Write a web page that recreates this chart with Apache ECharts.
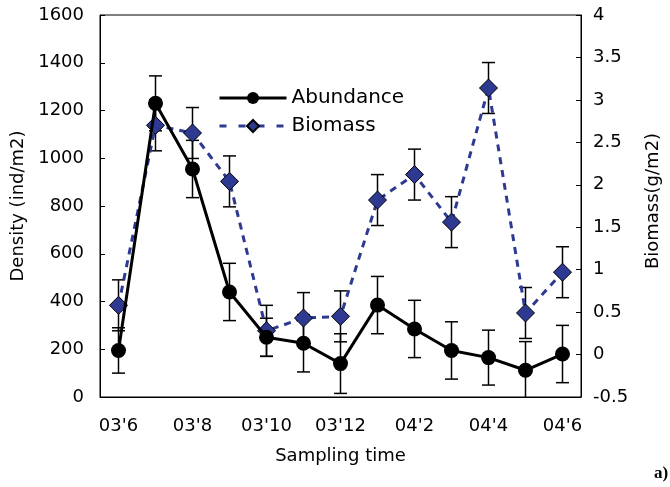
<!DOCTYPE html>
<html><head><meta charset="utf-8">
<script src="https://cdn.jsdelivr.net/npm/echarts@6/dist/echarts.min.js"></script>
<style>html,body{margin:0;padding:0;background:#fff}#c{width:670px;height:487px}</style>
</head><body><div id="c"></div>
<script>
const categories = ["03'6","03'7","03'8","03'9","03'10","03'11","03'12","04'1","04'2","04'3","04'4","04'5","04'6"];
const abundance = [195, 1230, 955, 440, 250, 225, 140, 385, 285, 195, 165, 112, 180];
const abundanceErr = [95, 115, 120, 120, 80, 120, 125, 120, 120, 120, 115, 120, 120];
const biomass = [0.58, 2.70, 2.61, 2.04, 0.28, 0.43, 0.45, 1.82, 2.12, 1.56, 3.14, 0.49, 0.97];
const biomassErr = [0.3, 0.3, 0.3, 0.3, 0.3, 0.3, 0.3, 0.3, 0.3, 0.3, 0.3, 0.3, 0.3];
const leftTicks = {min: 0, max: 1600, interval: 200};
const rightTicks = {min: -0.5, max: 4, interval: 0.5};

const FONT = 'DejaVu Sans';
const BLUE = '#2e3a91';

function errData(vals, errs){ return vals.map((v,i)=>[i, v-errs[i], v+errs[i]]); }
function errRender(params, api){
  const x = api.value(0);
  const p1 = api.coord([x, api.value(1)]);
  const p2 = api.coord([x, api.value(2)]);
  const w = 6.5;
  const st = {stroke:'#000', lineWidth:1.5};
  return {type:'group', children:[
    {type:'line', shape:{x1:p1[0], y1:p1[1], x2:p2[0], y2:p2[1]}, style:st},
    {type:'line', shape:{x1:p1[0]-w, y1:p1[1], x2:p1[0]+w, y2:p1[1]}, style:st},
    {type:'line', shape:{x1:p2[0]-w, y1:p2[1], x2:p2[0]+w, y2:p2[1]}, style:st}
  ]};
}

const chart = echarts.init(document.getElementById('c'));
chart.setOption({
  animation:false,
  textStyle:{fontFamily:FONT},
  grid:{left:100, right:85, top:15, bottom:90, show:true, borderColor:'#000', borderWidth:1},
  legend:{
    orient:'vertical', left:218, top:88, itemWidth:67, itemHeight:15, itemGap:8, padding:0,
    textStyle:{fontFamily:FONT, fontSize:20, color:'#000'},
    data:[
      {name:'Abundance', lineStyle:{width:3, color:'#000'}},
      {name:'Biomass', lineStyle:{width:3, color:BLUE, type:[7,12]}}
    ]
  },
  xAxis:{
    type:'category', data:categories, boundaryGap:true,
    name:'Sampling time', nameLocation:'middle', nameGap:50,
    nameTextStyle:{fontSize:18, color:'#000', fontFamily:FONT},
    axisLine:{lineStyle:{color:'#000', width:1}},
    axisTick:{inside:true, length:5, interval:0, lineStyle:{color:'#000'}},
    axisLabel:{interval:1, fontSize:18, color:'#000', margin:20, fontFamily:FONT}
  },
  yAxis:[
    {type:'value', min:leftTicks.min, max:leftTicks.max, interval:leftTicks.interval,
     name:'Density (ind/m2)', nameLocation:'middle', nameGap:72, nameRotate:90,
     nameTextStyle:{fontSize:18, color:'#000', fontFamily:FONT},
     axisLine:{show:true, lineStyle:{color:'#000'}},
     axisTick:{show:true, inside:true, length:5, lineStyle:{color:'#000'}},
     axisLabel:{fontSize:18, color:'#000', margin:16, fontFamily:FONT, formatter:v=>String(v)},
     splitLine:{show:false}},
    {type:'value', min:rightTicks.min, max:rightTicks.max, interval:rightTicks.interval, position:'right',
     name:'Biomass(g/m2)', nameLocation:'middle', nameGap:63, nameRotate:90,
     nameTextStyle:{fontSize:18, color:'#000', fontFamily:FONT, padding:[0,0,0,10]},
     axisLine:{show:true, lineStyle:{color:'#000'}},
     axisTick:{show:true, inside:true, length:5, lineStyle:{color:'#000'}},
     axisLabel:{fontSize:18, color:'#000', margin:12, fontFamily:FONT, formatter:v=>String(v)},
     splitLine:{show:false}}
  ],
  series:[
    {type:'custom', name:'abErr', yAxisIndex:0, renderItem:errRender, data:errData(abundance, abundanceErr), z:1, clip:true, silent:true},
    {type:'custom', name:'bmErr', yAxisIndex:1, renderItem:errRender, data:errData(biomass, biomassErr), z:1, clip:true, silent:true},
    {type:'line', name:'Biomass', yAxisIndex:1, data:biomass, symbol:'diamond', symbolSize:18,
     lineStyle:{color:BLUE, width:3, type:[7,6]},
     itemStyle:{color:BLUE, borderColor:'#000', borderWidth:1}, z:3},
    {type:'line', name:'Abundance', yAxisIndex:0, data:abundance, symbol:'circle', symbolSize:15,
     lineStyle:{color:'#000', width:3},
     itemStyle:{color:'#000'}, z:4}
  ],
  graphic:[
    {type:'text', left:654, top:465, style:{text:'a)', font:'bold 17px "Liberation Serif"', fill:'#000'}}
  ]
});
</script></body></html>
